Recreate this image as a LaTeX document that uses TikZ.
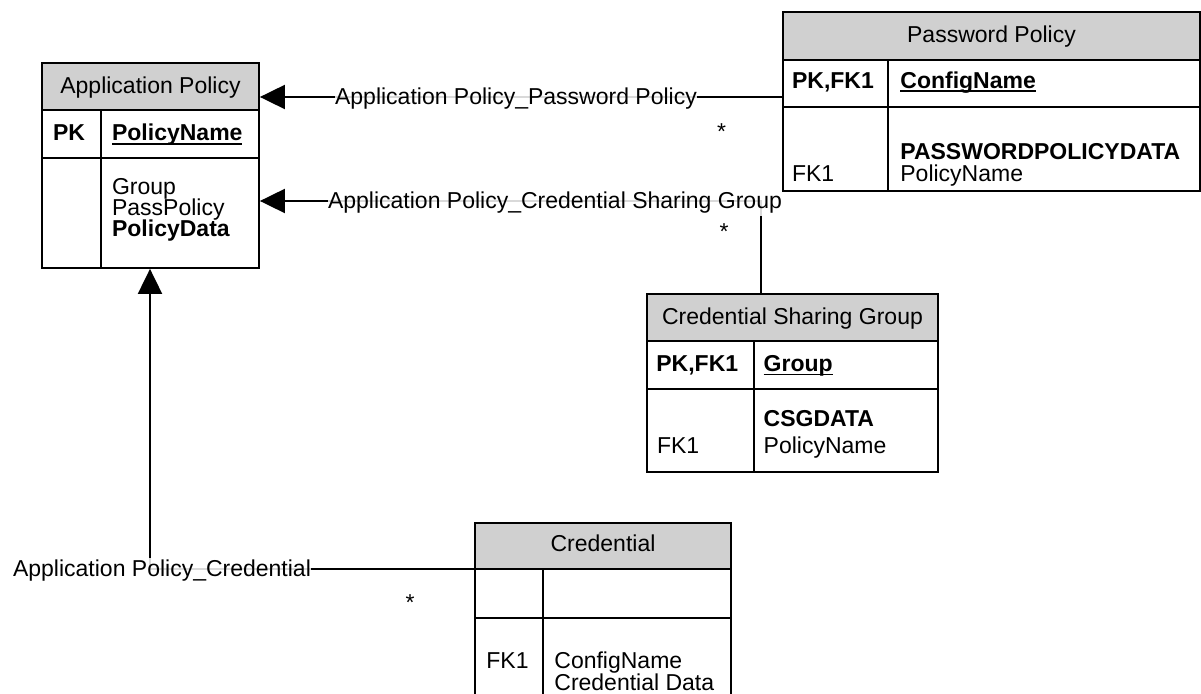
\documentclass[tikz,border=0pt]{standalone}
\usepackage{fontspec}
\setmainfont{Liberation Sans}
\usetikzlibrary{arrows.meta,fit}
\definecolor{hdr}{RGB}{208,208,208}
\newcommand\ulb[1]{\setbox0\hbox{#1}\rlap{\rule[-1.9pt]{\wd0}{0.9pt}}\box0}
\newcommand\ertab[8]{%
  \fill[hdr] (#2,#3) rectangle (#4,#6);
  \draw[tline] (#2,#6) -- (#4,#6);
  \draw[tline] (#2,#7) -- (#4,#7);
  \draw[tline] (#8,#6) -- (#8,#5);
  \node[tablebox, fit={(#2,#3) (#4,#5)}] (#1) {};
}
\tikzset{
  every node/.style={font=\fontsize{11.5}{13.8}\selectfont},
  tline/.style={line width=0.9pt},
  tablebox/.style={draw, line width=0.9pt, inner sep=0pt},
  hdrtext/.style={anchor=base, inner sep=0pt},
  cell/.style={anchor=base west, inner sep=0pt},
  conn/.style={line width=1pt, -{Triangle[length=12.5pt,width=12pt]}},
  lbl/.style={anchor=base, fill=white, fill opacity=0.85, text opacity=1, inner xsep=0pt, inner ysep=1pt},
  mult/.style={anchor=base, inner sep=0pt}
}
\begin{document}
\begin{tikzpicture}[x=0.5pt,y=-0.5pt]
\clip (0,0) rectangle (1201,694);
\fill[white] (0,0) rectangle (1201,694);

% Application Policy
\ertab{ap}{42}{63}{259}{268}{110}{158}{101}
\node[hdrtext] (ap-t) at (150.5,94) {Application Policy};
\node[cell] (ap-pk) at (52.7,141) {\textbf{PK}};
\node[cell] (ap-k) at (111.7,141) {\textbf{\ulb{PolicyName}}};
\node[cell] (ap-a1) at (111.7,195) {Group};
\node[cell] (ap-a2) at (111.7,216) {PassPolicy};
\node[cell] (ap-a3) at (111.7,237) {\textbf{PolicyData}};

% Password Policy
\ertab{pp}{783}{12}{1200}{191}{60}{107}{888}
\node[hdrtext] (pp-t) at (991.5,42.7) {Password Policy};
\node[cell] (pp-pk) at (791.7,88.3) {\textbf{PK,FK1}};
\node[cell] (pp-k) at (900,88.3) {\textbf{\ulb{ConfigName}}};
\node[cell] (pp-a1) at (900,159.5) {\textbf{PASSWORDPOLICYDATA}};
\node[cell] (pp-a2) at (900,181.7) {PolicyName};
\node[cell] (pp-fk) at (791.7,181.7) {FK1};

% Credential Sharing Group
\ertab{csg}{647}{294}{938}{472}{341}{389}{754}
\node[hdrtext] (csg-t) at (792.5,325) {Credential Sharing Group};
\node[cell] (csg-pk) at (656,371.7) {\textbf{PK,FK1}};
\node[cell] (csg-k) at (763.3,371.7) {\textbf{\ulb{Group}}};
\node[cell] (csg-a1) at (763.3,426.7) {\textbf{CSGDATA}};
\node[cell] (csg-a2) at (763.3,454) {PolicyName};
\node[cell] (csg-fk) at (656.7,454) {FK1};

% Credential
\ertab{cred}{475}{523}{731}{720}{569}{618}{543}
\node[hdrtext] (cred-t) at (603,551.7) {Credential};
\node[cell] (cred-fk) at (486,669) {FK1};
\node[cell] (cred-a1) at (554,669) {ConfigName};
\node[cell] (cred-a2) at (554,691) {Credential Data};

% helper coordinates
\coordinate (y97) at (0,97);
\coordinate (y201) at (0,201);
\coordinate (y569) at (0,569);
\coordinate (x761) at (761,0);
\coordinate (x150) at (150,0);

% connectors
\draw[conn] (pp.west |- y97) -- (ap.east |- y97);
\draw[conn] (csg.north -| x761) |- (ap.east |- y201);
\draw[conn] (cred.west |- y569) -| (ap.south -| x150);

% labels
\node[lbl] (l1) at (516,105) {Application Policy\_Password Policy};
\node[lbl] (l2) at (555,209) {Application Policy\_Credential Sharing Group};
\node[lbl] (l3) at (162,577) {Application Policy\_Credential};

% multiplicities
\node[mult] (m1) at (721.5,140) {*};
\node[mult] (m2) at (724,240) {*};
\node[mult] (m3) at (410,611) {*};
\end{tikzpicture}
\end{document}
